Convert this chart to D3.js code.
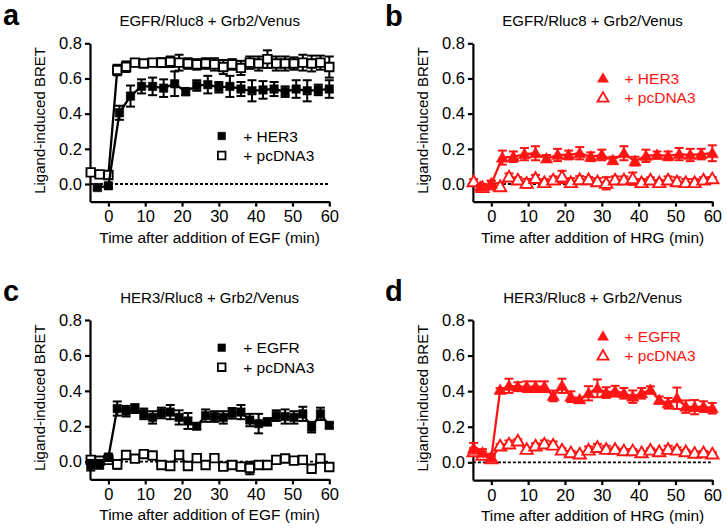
<!DOCTYPE html>
<html><head><meta charset="utf-8">
<script src="https://cdn.jsdelivr.net/npm/d3@7"></script>
<style>body{margin:0;background:#fff}svg{display:block;font-family:"Liberation Sans",Arial,Helvetica,sans-serif}</style>
</head><body><svg id="chart" width="726" height="531"></svg>
<script>
// ---------- data ----------
const xTicks = [0, 10, 20, 30, 40, 50, 60];
const yTicks = [0, 0.2, 0.4, 0.6, 0.8];

// common sampling grid (min)
const grid = [-4.8,-2.4,0,2.4,4.8,7.2,9.6,12,14.4,16.8,19.2,21.6,24,26.4,28.8,31.2,33.6,36,38.4,40.8,43.2,45.6,48,50.4,52.8,55.2,57.6,60];
// 3-min grid
const grid3 = [-3,0,3,6,9,12,15,18,21,24,27,30,33,36,39,42,45,48,51,54,57,60];

// panel a
const valsA1 = [-0.02,-0.01,0.405,0.50,0.555,0.555,0.545,0.57,0.525,0.56,0.565,0.55,0.555,0.54,0.53,0.535,0.54,0.525,0.54,0.53,0.535,0.54];
const errA1  = [0.01,0.01,0.04,0.06,0.04,0.05,0.05,0.07,0.02,0.03,0.05,0.03,0.06,0.04,0.06,0.05,0.04,0.03,0.05,0.06,0.03,0.05];
const valsA2 = [0.066,0.055,0.051,0.648,0.667,0.69,0.685,0.69,0.69,0.695,0.69,0.685,0.68,0.685,0.68,0.665,0.68,0.66,0.69,0.685,0.71,0.685,0.685,0.685,0.69,0.685,0.69,0.665];
const errA2  = [0.01,0.01,0.01,0.03,0.03,0.02,0.02,0.02,0.025,0.03,0.045,0.03,0.03,0.03,0.035,0.04,0.03,0.04,0.035,0.04,0.05,0.04,0.04,0.035,0.045,0.045,0.04,0.06];

// panel b
const valsB1 = [-0.015,0.0,0.15,0.155,0.17,0.175,0.145,0.165,0.165,0.175,0.155,0.165,0.135,0.175,0.13,0.16,0.165,0.16,0.17,0.165,0.17,0.175];
const errB1  = [0.01,0.02,0.04,0.03,0.035,0.04,0.02,0.035,0.025,0.035,0.025,0.03,0.02,0.04,0.025,0.035,0.02,0.025,0.035,0.035,0.03,0.045];
const valsB2 = [0.013,-0.02,-0.005,-0.015,0.04,0.023,0.004,0.032,0.008,0.023,0.04,0.008,0.025,0.025,0.013,0.004,0.023,0.023,0.03,0.008,0.023,0.008,0.023,0.013,0.008,0.008,0.023,0.03];
const errB2  = [0.015,0.02,0.02,0.02,0.02,0.015,0.025,0.02,0.02,0.02,0.035,0.025,0.02,0.015,0.02,0.035,0.02,0.02,0.035,0.02,0.015,0.015,0.02,0.025,0.02,0.02,0.015,0.01];

// panel c
const valsC1 = [-0.02,-0.015,0.025,0.30,0.285,0.30,0.27,0.25,0.275,0.28,0.25,0.23,0.20,0.26,0.255,0.25,0.273,0.28,0.235,0.215,0.225,0.26,0.255,0.25,0.27,0.195,0.27,0.205];
const errC1  = [0.03,0.025,0.02,0.04,0.03,0.025,0.03,0.035,0.03,0.04,0.04,0.045,0.015,0.035,0.03,0.035,0.03,0.04,0.035,0.055,0.02,0.03,0.04,0.035,0.04,0.03,0.035,0.015];
const valsC2 = [0.01,0.005,0.01,-0.015,0.038,0.017,0.043,0.035,-0.019,-0.024,0.038,-0.024,0.02,-0.019,0.02,-0.028,-0.019,-0.028,-0.036,-0.019,-0.019,0.01,0.018,0.006,0.01,-0.04,0.018,-0.03];
const errC2  = [0.02,0.02,0.02,0.025,0.01,0.01,0.01,0.015,0.01,0.01,0.01,0.01,0.01,0.01,0.01,0.01,0.01,0.02,0.035,0.01,0.01,0.02,0.01,0.01,0.01,0.01,0.01,0.01];

// panel d
const valsD1 = [0.079,0.054,0.028,0.407,0.43,0.425,0.425,0.425,0.425,0.373,0.43,0.369,0.354,0.388,0.416,0.392,0.40,0.388,0.369,0.388,0.407,0.35,0.332,0.36,0.313,0.31,0.313,0.304];
const errD1  = [0.03,0.02,0.02,0.01,0.04,0.025,0.03,0.03,0.03,0.03,0.04,0.03,0.01,0.04,0.05,0.03,0.03,0.03,0.035,0.03,0.02,0.02,0.03,0.06,0.035,0.04,0.03,0.03];
const valsD2 = [0.06,0.04,0.02,0.092,0.103,0.12,0.073,0.092,0.103,0.097,0.069,0.054,0.047,0.069,0.084,0.073,0.073,0.065,0.065,0.054,0.069,0.06,0.073,0.069,0.06,0.051,0.054,0.047];
const errD2  = [0.02,0.02,0.015,0.01,0.02,0.01,0.01,0.015,0.02,0.02,0.01,0.01,0.01,0.02,0.02,0.02,0.01,0.01,0.01,0.01,0.01,0.01,0.02,0.015,0.01,0.01,0.01,0.01];

const panelLetters = ["a","b","c","d"];
const panelTitles = ["EGFR/Rluc8 + Grb2/Venus","EGFR/Rluc8 + Grb2/Venus","HER3/Rluc8 + Grb2/Venus","HER3/Rluc8 + Grb2/Venus"];
const xLabels = ["Time after addition of EGF (min)","Time after addition of HRG (min)","Time after addition of EGF (min)","Time after addition of HRG (min)"];
const yLabel = "Ligand-induced BRET";

// ---------- layout ----------
const RED = "#ff1414";
const panels = [
  {i:0, color:"#000", shape:d3.symbolSquare, size:72, box:{x0:90,x1:329.3,yb:201.6,yt:43.3}, leg:{x:221.7,y:136}, letter:{x:3,y:25},
   series:[{name:"+ HER3",t:grid3,v:valsA1,e:errA1,filled:true},{name:"+ pcDNA3",t:grid,v:valsA2,e:errA2,filled:false}]},
  {i:1, color:RED, shape:d3.symbolTriangle, size:66, box:{x0:472.9,x1:712.3,yb:201.6,yt:43.3}, leg:{x:603,y:78}, letter:{x:385,y:26},
   series:[{name:"+ HER3",t:grid3,v:valsB1,e:errB1,filled:true},{name:"+ pcDNA3",t:grid,v:valsB2,e:errB2,filled:false}]},
  {i:2, color:"#000", shape:d3.symbolSquare, size:72, box:{x0:90,x1:329.3,yb:479.4,yt:320}, leg:{x:221.7,y:347.7}, letter:{x:3,y:301},
   series:[{name:"+ EGFR",t:grid,v:valsC1,e:errC1,filled:true},{name:"+ pcDNA3",t:grid,v:valsC2,e:errC2,filled:false}]},
  {i:3, color:RED, shape:d3.symbolTriangle, size:66, box:{x0:472.9,x1:712.3,yb:480.1,yt:320}, leg:{x:603,y:336}, letter:{x:385,y:301},
   series:[{name:"+ EGFR",t:grid,v:valsD1,e:errD1,filled:true},{name:"+ pcDNA3",t:grid,v:valsD2,e:errD2,filled:false}]}
];

const svg = d3.select("#chart");

panels.forEach(p => {
  const g = svg.append("g");
  const x = d3.scaleLinear().domain([-5, 60]).range([p.box.x0, p.box.x1]);
  const y = d3.scaleLinear().domain([-0.1, 0.8]).range([p.box.yb, p.box.yt]);

  // panel letter
  g.append("text").attr("x", p.letter.x).attr("y", p.letter.y)
    .attr("font-size", 29).attr("font-weight", "bold").text(panelLetters[p.i]);
  // title
  g.append("text").attr("x", (p.box.x0 + p.box.x1) / 2).attr("y", p.box.yt - 17)
    .attr("text-anchor", "middle").attr("font-size", 15).text(panelTitles[p.i]);

  // axes
  const ya = g.append("g").attr("transform", `translate(${p.box.x0},0)`)
    .call(d3.axisLeft(y).tickValues(yTicks).tickFormat(d3.format(".1f")).tickSize(5).tickSizeOuter(0).tickPadding(3));
  const xa = g.append("g").attr("transform", `translate(0,${p.box.yb})`)
    .call(d3.axisBottom(x).tickValues(xTicks).tickSize(5).tickSizeOuter(0).tickPadding(4));
  [ya, xa].forEach(a => {
    a.select(".domain").attr("stroke", "#000").attr("stroke-width", 2.2);
    a.selectAll(".tick line").attr("stroke", "#000").attr("stroke-width", 2.2);
    a.selectAll(".tick text").attr("font-size", 16.5).attr("fill", "#000")
      .attr("font-family", '"Liberation Sans",Arial,sans-serif');
  });

  // axis labels
  g.append("text").attr("x", (p.box.x0 + p.box.x1) / 2).attr("y", p.box.yb + 41)
    .attr("text-anchor", "middle").attr("font-size", 15.5).text(xLabels[p.i]);
  g.append("text").attr("transform", `translate(${p.box.x0 - 45},${(p.box.yb + p.box.yt) / 2 - 2}) rotate(-90)`)
    .attr("text-anchor", "middle").attr("font-size", 15).text(yLabel);

  // zero dotted line
  g.append("line").attr("x1", x(-5)).attr("x2", x(60)).attr("y1", y(0)).attr("y2", y(0))
    .attr("stroke", "#000").attr("stroke-width", 1.8).attr("stroke-dasharray", "3,2");

  const line = d3.line().x(d => x(d.t)).y(d => y(d.v));
  // draw pcDNA3 first, then filled series on top
  [p.series[1], p.series[0]].forEach(s => {
    const pts = s.t.map((t, k) => ({t, v: s.v[k], e: s.e[k]}));
    g.append("path").datum(pts).attr("d", line).attr("fill", "none")
      .attr("stroke", p.color).attr("stroke-width", 2.3);
    const eb = g.append("g").attr("stroke", p.color).attr("stroke-width", 2);
    pts.forEach(d => {
      const xx = x(d.t), ylo = y(d.v - d.e), yhi = y(d.v + d.e);
      eb.append("line").attr("x1", xx).attr("x2", xx).attr("y1", ylo).attr("y2", yhi);
      eb.append("line").attr("x1", xx - 4.5).attr("x2", xx + 4.5).attr("y1", ylo).attr("y2", ylo);
      eb.append("line").attr("x1", xx - 4.5).attr("x2", xx + 4.5).attr("y1", yhi).attr("y2", yhi);
    });
    const sym = d3.symbol().type(p.shape).size(p.size);
    g.append("g").selectAll("path").data(pts).join("path")
      .attr("d", sym)
      .attr("transform", d => `translate(${x(d.t)},${y(d.v) + (p.shape === d3.symbolTriangle ? 1 : 0)})`)
      .attr("fill", s.filled ? p.color : "#fff")
      .attr("stroke", p.color).attr("stroke-width", s.filled ? 0.5 : 1.9);
  });

  // legend
  p.series.forEach((s, k) => {
    const ly = p.leg.y + k * 19.5;
    g.append("path").attr("d", d3.symbol().type(p.shape).size(p.size * 0.8)())
      .attr("transform", `translate(${p.leg.x},${ly + (p.shape === d3.symbolTriangle ? 1 : 0)})`)
      .attr("fill", s.filled ? p.color : "#fff").attr("stroke", p.color).attr("stroke-width", s.filled ? 0.5 : 1.8);
    g.append("text").attr("x", p.leg.x + 21.5).attr("y", ly).attr("dy", "0.36em")
      .attr("font-size", 15.5).attr("fill", p.color).text(s.name);
  });
});
</script></body></html>
